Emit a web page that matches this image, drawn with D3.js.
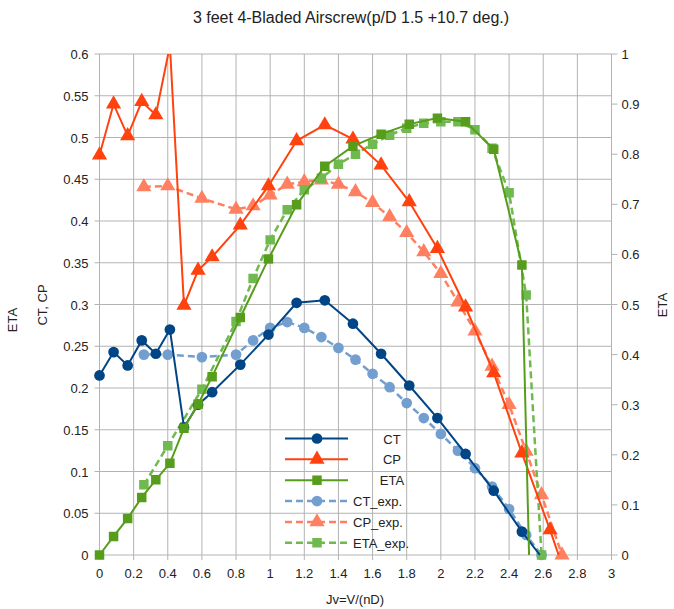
<!DOCTYPE html>
<html>
<head>
<meta charset="utf-8">
<script src="https://cdn.jsdelivr.net/npm/d3@7"></script>
<style>
  body { margin: 0; background: #fff; }
  svg text { font-family: "Liberation Sans", Arial, sans-serif; fill: #222; }
</style>
</head>
<body>
<svg id="chart"></svg>
<script>
// calculated values (J step 0.0825 then 0.165)
const jCalc = [0, 0.0825, 0.165, 0.2475, 0.33, 0.4125, 0.495, 0.5775, 0.66, 0.825, 0.99, 1.155, 1.32, 1.485, 1.65, 1.815, 1.98, 2.145, 2.31, 2.475];
const ctCalc = [0.215, 0.243, 0.227, 0.257, 0.241, 0.270, 0.153, 0.180, 0.195, 0.228, 0.264, 0.302, 0.305, 0.277, 0.241, 0.203, 0.164, 0.121, 0.077, 0.028];
const cpCalc = [0.479, 0.540, 0.502, 0.543, 0.527, 0.61, 0.299, 0.341, 0.357, 0.395, 0.442, 0.496, 0.515, 0.498, 0.467, 0.423, 0.367, 0.297, 0.218, 0.122];
const etaCalc = [0, 0.037, 0.073, 0.115, 0.150, 0.183, 0.253, 0.301, 0.356, 0.474, 0.591, 0.699, 0.776, 0.816, 0.840, 0.860, 0.872, 0.865, 0.810, 0.579];
// zero-thrust end points of the calculated curves
const ctEnd = [[2.58, 0]];
const cpEnd = [[2.64, 0.030], [2.69, 0]];
const etaEnd = [[2.517, 0]];

// experiment
const jExp = [0.26, 0.4, 0.6, 0.8, 0.9, 1.0, 1.1, 1.2, 1.3, 1.4, 1.5, 1.6, 1.7, 1.8, 1.9, 2.0, 2.1, 2.2, 2.3, 2.4, 2.5, 2.59];
const ctExp = [0.240, 0.240, 0.237, 0.240, 0.257, 0.272, 0.279, 0.272, 0.261, 0.248, 0.234, 0.217, 0.201, 0.182, 0.164, 0.145, 0.125, 0.104, 0.082, 0.055, 0.024, 0];
const cpExp = [0.441, 0.442, 0.427, 0.414, 0.418, 0.431, 0.444, 0.447, 0.449, 0.444, 0.435, 0.422, 0.405, 0.386, 0.363, 0.337, 0.303, 0.268, 0.226, 0.180, 0.124, 0.072];
const cpExpEnd = [[2.71, 0]];
const etaExp = [0.140, 0.218, 0.331, 0.466, 0.552, 0.629, 0.689, 0.729, 0.752, 0.780, 0.800, 0.820, 0.838, 0.852, 0.862, 0.865, 0.865, 0.849, 0.812, 0.723, 0.519, 0];

const xTicks = d3.range(0, 3.01, 0.2);
const yTicks = d3.range(0, 0.601, 0.05);
const y2Ticks = d3.range(0, 1.001, 0.1);

const width = 674, height = 609;
const margin = { left: 99.5, right: 62.5, top: 54, bottom: 54 };

const svg = d3.select('#chart').attr('width', width).attr('height', height);

const x = d3.scaleLinear().domain([0, 3]).range([margin.left, width - margin.right]);
const y = d3.scaleLinear().domain([0, 0.6]).range([height - margin.bottom, margin.top]);
const y2 = d3.scaleLinear().domain([0, 1]).range([height - margin.bottom, margin.top]);

const fmt = d => String(+d.toFixed(2));

// grid
svg.append('g').selectAll('line').data(xTicks).enter().append('line')
    .attr('x1', d => x(d)).attr('x2', d => x(d))
    .attr('y1', y(0.6)).attr('y2', y(0) + 5)
    .attr('stroke', '#b3b3b3');
svg.append('g').selectAll('line').data(yTicks).enter().append('line')
    .attr('x1', x(0) - 5).attr('x2', x(3))
    .attr('y1', d => y(d)).attr('y2', d => y(d))
    .attr('stroke', '#b3b3b3');
// right axis ticks
svg.append('g').selectAll('line').data(y2Ticks).enter().append('line')
    .attr('x1', x(3)).attr('x2', x(3) + 6)
    .attr('y1', d => y2(d)).attr('y2', d => y2(d))
    .attr('stroke', '#b3b3b3');

// tick labels
svg.append('g').selectAll('text').data(xTicks).enter().append('text')
    .attr('x', d => x(d)).attr('y', y(0) + 23)
    .attr('text-anchor', 'middle').style('font-size', '13px')
    .text(fmt);
svg.append('g').selectAll('text').data(yTicks).enter().append('text')
    .attr('x', x(0) - 11).attr('y', d => y(d) + 5)
    .attr('text-anchor', 'end').style('font-size', '13px')
    .text(fmt);
svg.append('g').selectAll('text').data(y2Ticks).enter().append('text')
    .attr('x', x(3) + 10).attr('y', d => y2(d) + 5)
    .attr('text-anchor', 'start').style('font-size', '13px')
    .text(fmt);

// titles
svg.append('text').attr('x', 351).attr('y', 23).attr('text-anchor', 'middle')
    .style('font-size', '16px').text('3 feet 4-Bladed Airscrew(p/D 1.5 +10.7 deg.)');
svg.append('text').attr('x', 355).attr('y', 604).attr('text-anchor', 'middle')
    .style('font-size', '13px').text('Jv=V/(nD)');
svg.append('text').attr('transform', 'translate(17,320) rotate(-90)').attr('text-anchor', 'middle')
    .style('font-size', '13px').text('ETA');
svg.append('text').attr('transform', 'translate(47,305) rotate(-90)').attr('text-anchor', 'middle')
    .style('font-size', '13px').text('CT, CP');
svg.append('text').attr('transform', 'translate(667,305) rotate(-90)').attr('text-anchor', 'middle')
    .style('font-size', '13px').text('ETA');

svg.append('clipPath').attr('id', 'plot-clip').append('rect')
    .attr('x', x(0) - 8).attr('y', y(0.6)).attr('width', x(3) - x(0) + 16).attr('height', y(0) - y(0.6) + 10);

const plot = svg.append('g').attr('clip-path', 'url(#plot-clip)');

const series = [
    { name: 'CT', pts: jCalc.map((j, i) => [j, ctCalc[i]]), end: ctEnd, scale: y, color: '#004586', sym: d3.symbolCircle, size: 90, dash: null },
    { name: 'CP', pts: jCalc.map((j, i) => [j, cpCalc[i]]), end: cpEnd.slice(0, 1), tail: cpEnd.slice(1), scale: y, color: '#ff420e', sym: d3.symbolTriangle, size: 100, dash: null },
    { name: 'ETA', pts: jCalc.map((j, i) => [j, etaCalc[i]]), end: etaEnd, scale: y2, color: '#579d1c', sym: d3.symbolSquare, size: 90, dash: null },
    { name: 'CT_exp.', pts: jExp.map((j, i) => [j, ctExp[i]]), end: [], scale: y, color: '#729fcf', sym: d3.symbolCircle, size: 90, dash: '7,4' },
    { name: 'CP_exp.', pts: jExp.map((j, i) => [j, cpExp[i]]).concat(cpExpEnd), end: [], scale: y, color: '#ff8061', sym: d3.symbolTriangle, size: 100, dash: '7,4' },
    { name: 'ETA_exp.', pts: jExp.map((j, i) => [j, etaExp[i]]), end: [], scale: y2, color: '#6fb94f', sym: d3.symbolSquare, size: 90, dash: '7,4' }
];

// draw experiment first so calculated lines sit on top
[3, 4, 5, 0, 1, 2].forEach(k => {
    const s = series[k];
    const marked = s.pts.concat(s.name === 'CP' ? s.end : []);
    const all = marked.concat(s.name === 'CP' ? s.tail : s.end);
    const line = d3.line().x(d => x(d[0])).y(d => s.scale(d[1]));
    plot.append('path')
        .attr('d', line(all))
        .attr('fill', 'none')
        .attr('stroke', s.color)
        .attr('stroke-width', s.dash ? 2.5 : 2)
        .attr('stroke-dasharray', s.dash);
    plot.append('g').selectAll('path').data(marked).enter().append('path')
        .attr('d', d3.symbol().type(s.sym).size(s.size))
        .attr('transform', d => `translate(${x(d[0])},${s.scale(d[1])})`)
        .attr('fill', s.color);
});

// legend
const legend = svg.append('g');
const rows = legend.selectAll('g').data(series).enter().append('g')
    .attr('transform', (d, i) => `translate(285,${438.5 + i * 20.85})`);
rows.append('line')
    .attr('x1', 0).attr('x2', 63)
    .attr('stroke', d => d.color)
    .attr('stroke-width', d => d.dash ? 2.5 : 2)
    .attr('stroke-dasharray', d => d.dash);
rows.append('path')
    .attr('d', d => d3.symbol().type(d.sym).size(d.size)())
    .attr('transform', 'translate(32,0)')
    .attr('fill', d => d.color);
rows.append('text')
    .attr('x', d => d.dash ? 68 : 107)
    .attr('y', 5)
    .attr('text-anchor', d => d.dash ? 'start' : 'middle')
    .style('font-size', '13px')
    .text(d => d.name);
</script>
</body>
</html>
